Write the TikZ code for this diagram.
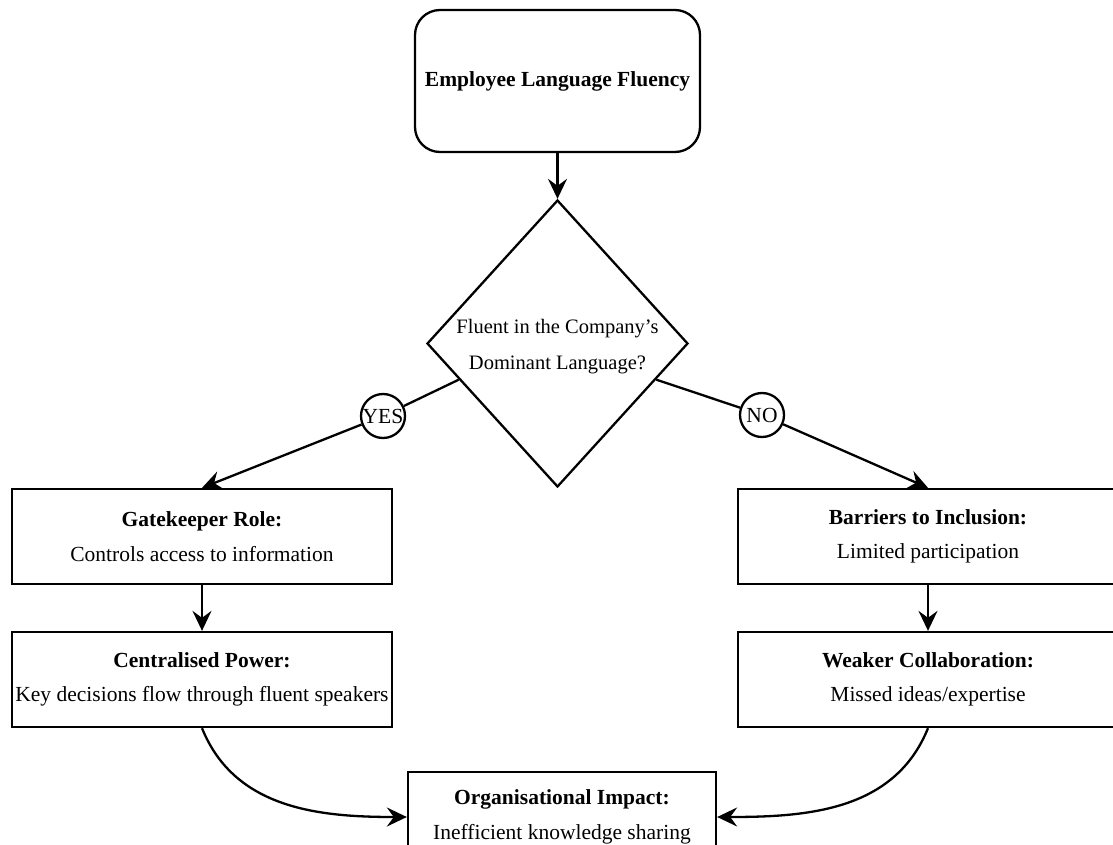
\documentclass[tikz,border=0pt]{standalone}
\usepackage{fontspec}
\setmainfont{Liberation Serif}
\usetikzlibrary{shapes.geometric,arrows.meta,calc}
\begin{document}
\begin{tikzpicture}[x=1pt,y=-1pt,line width=2.3pt,
  font=\fontsize{21.5}{34.5}\selectfont,
  arr/.style={-{Stealth[length=20pt,width=19pt,inset=7pt]}},
  box/.style={draw,minimum width=380pt,minimum height=95pt,align=center,inner sep=0pt},
  lbl/.style={draw,circle,minimum size=44pt,inner sep=0pt}]
\useasboundingbox (0,0) rectangle (1113,845);
\node[draw,rounded corners=25pt,minimum width=285pt,minimum height=142pt,font=\fontsize{21.5}{34.5}\selectfont\bfseries] (top) at (557.5,81) {Employee Language Fluency};
\node[draw,diamond,minimum width=261pt,minimum height=287pt,inner sep=0pt,aspect=0.91] (d) at (557.5,343.5) {};
\node[align=center,inner sep=0pt,font=\fontsize{20.5}{36}\selectfont] (dt) at (557.5,347) {Fluent in the Company’s\\Dominant Language?};
\node[box] (lt) at (202,536.5) {\textbf{Gatekeeper Role:}\\Controls access to information};
\node[box] (lb) at (202,679.5) {\textbf{Centralised Power:}\\Key decisions flow through fluent speakers};
\node[box] (rt) at (928,536.5) {\textbf{Barriers to Inclusion:}\\Limited participation};
\node[box] (rb) at (928,679.5) {\textbf{Weaker Collaboration:}\\Missed ideas/expertise};
\node[draw,minimum width=308pt,minimum height=90pt,align=center,inner sep=0pt] (bot) at (562,817) {\textbf{Organisational Impact:}\\Inefficient knowledge sharing};
\node[lbl] (yes) at (383,416) {YES};
\node[lbl] (no) at (762,415) {NO};
\coordinate (dl) at ($(d.west)!0.25!(d.south)$);
\coordinate (dr) at ($(d.east)!0.25!(d.south)$);
\draw[arr] (top) -- (d.north);
\draw (dl) -- (yes);
\draw[arr] (yes) -- (lt.north);
\draw (dr) -- (no);
\draw[arr] (no) -- (rt.north);
\draw[arr] (lt) -- (lb);
\draw[arr] (rt) -- (rb);
\draw[arr] (lb.south) to[out=-68,in=180] (bot.west);
\draw[arr] (rb.south) to[out=-112,in=0] (bot.east);
\end{tikzpicture}
\end{document}
